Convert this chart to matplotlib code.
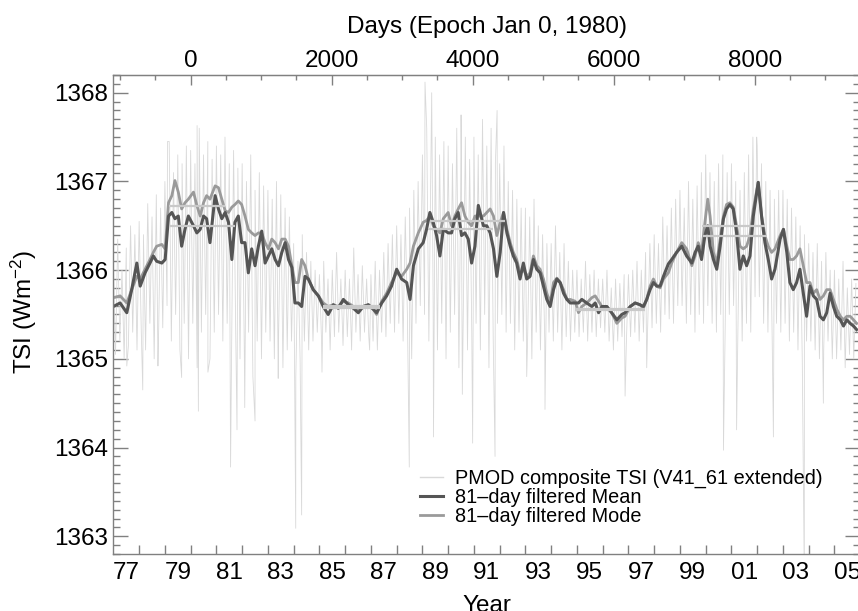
import numpy as np
import matplotlib
matplotlib.use('Agg')
import matplotlib.pyplot as plt
from matplotlib.ticker import MultipleLocator
from matplotlib.lines import Line2D

plt.rcParams['font.family'] = ['Liberation Sans', 'DejaVu Sans']
plt.rcParams['mathtext.fontset'] = 'custom'
plt.rcParams['mathtext.rm'] = 'Liberation Sans'
plt.rcParams['mathtext.it'] = 'Liberation Sans:italic'

# 81-day filtered curves (year, W/m^2)
filt_years = [
    1977.00, 1977.26, 1977.52, 1977.71, 1977.91,
    1978.04, 1978.23, 1978.42, 1978.55, 1978.68, 1978.88,
    1979.01, 1979.14, 1979.27, 1979.39, 1979.52, 1979.65, 1979.78, 1979.91,
    1980.11, 1980.24, 1980.37, 1980.50, 1980.62, 1980.75, 1980.95,
    1981.08, 1981.21, 1981.34, 1981.47, 1981.60, 1981.72, 1981.85, 1981.98,
    1982.11, 1982.24, 1982.37, 1982.50, 1982.63, 1982.76, 1982.89,
    1983.02, 1983.15, 1983.28, 1983.41, 1983.54, 1983.67, 1983.80, 1983.93,
    1984.05, 1984.18, 1984.31, 1984.44, 1984.57, 1984.76, 1984.96,
    1985.15, 1985.34, 1985.54, 1985.73, 1985.93,
    1986.12, 1986.32, 1986.51, 1986.70, 1986.90,
    1987.09, 1987.22, 1987.42, 1987.61, 1987.80,
    1988.00, 1988.19, 1988.39, 1988.52, 1988.65, 1988.84,
    1989.03, 1989.16, 1989.29, 1989.42, 1989.55, 1989.68, 1989.81,
    1990.00, 1990.13, 1990.26, 1990.39, 1990.52, 1990.65, 1990.78, 1990.91,
    1991.04, 1991.17, 1991.37, 1991.50, 1991.63, 1991.76, 1991.89,
    1992.02, 1992.15, 1992.28, 1992.41, 1992.53, 1992.66, 1992.79, 1992.92,
    1993.05, 1993.18, 1993.31, 1993.44, 1993.57, 1993.70, 1993.83, 1993.96,
    1994.09, 1994.22, 1994.35, 1994.48, 1994.61, 1994.74, 1994.93,
    1995.06, 1995.19, 1995.38, 1995.58, 1995.71, 1995.84, 1995.97,
    1996.16, 1996.35, 1996.55, 1996.74, 1996.87,
    1997.07, 1997.26, 1997.45, 1997.58, 1997.71, 1997.84, 1997.97,
    1998.10, 1998.23, 1998.36, 1998.55, 1998.68, 1998.87,
    1999.07, 1999.26, 1999.46, 1999.59, 1999.71, 1999.84, 1999.97,
    2000.08, 2000.17, 2000.30, 2000.43, 2000.56, 2000.69, 2000.81, 2000.94,
    2001.07, 2001.20, 2001.33, 2001.46, 2001.59, 2001.72, 2001.85,
    2002.04, 2002.17, 2002.30, 2002.43, 2002.56, 2002.69, 2002.89,
    2003.02, 2003.15, 2003.27, 2003.40, 2003.53, 2003.66, 2003.79, 2003.92,
    2004.05, 2004.18, 2004.31, 2004.44, 2004.57, 2004.70, 2004.83, 2004.96,
    2005.09, 2005.23, 2005.35, 2005.48, 2005.61, 2005.74, 2005.86,
]
mean_81 = [
    1365.59, 1365.63, 1365.52, 1365.78, 1366.08,
    1365.82, 1365.97, 1366.08, 1366.16, 1366.10, 1366.08,
    1366.12, 1366.61, 1366.65, 1366.58, 1366.61, 1366.27, 1366.46, 1366.61,
    1366.50, 1366.42, 1366.46, 1366.61, 1366.58, 1366.31, 1366.84,
    1366.69, 1366.58, 1366.65, 1366.54, 1366.12, 1366.54, 1366.61, 1366.31,
    1366.31, 1365.97, 1366.24, 1366.05, 1366.27, 1366.44, 1366.08,
    1366.16, 1366.24, 1366.12, 1366.05, 1366.20, 1366.31, 1366.12, 1366.03,
    1365.63, 1365.63, 1365.59, 1365.93, 1365.90, 1365.78, 1365.71,
    1365.59, 1365.50, 1365.61, 1365.57, 1365.67,
    1365.61, 1365.57, 1365.52, 1365.59, 1365.61,
    1365.56, 1365.52, 1365.63, 1365.71, 1365.82,
    1366.01, 1365.90, 1365.86, 1365.67, 1366.05, 1366.24,
    1366.31, 1366.46, 1366.65, 1366.54, 1366.39, 1366.16, 1366.46,
    1366.42, 1366.42, 1366.58, 1366.65, 1366.39, 1366.42, 1366.35, 1366.08,
    1366.27, 1366.73, 1366.50, 1366.50, 1366.42, 1366.24, 1365.93,
    1366.20, 1366.65, 1366.42, 1366.27, 1366.16, 1366.08, 1365.90, 1366.08,
    1365.90, 1365.93, 1366.12, 1366.01, 1365.97, 1365.82, 1365.67, 1365.59,
    1365.78, 1365.90, 1365.86, 1365.74, 1365.67, 1365.63, 1365.63,
    1365.63, 1365.67, 1365.63, 1365.59, 1365.63, 1365.52, 1365.59,
    1365.59, 1365.52, 1365.44, 1365.50, 1365.52,
    1365.59, 1365.63, 1365.61, 1365.59, 1365.67, 1365.78, 1365.86,
    1365.82, 1365.82, 1365.93, 1366.07, 1366.12, 1366.20,
    1366.27, 1366.16, 1366.08, 1366.20, 1366.27, 1366.12, 1366.39,
    1366.50, 1366.27, 1366.12, 1366.01, 1366.27, 1366.58, 1366.69, 1366.74,
    1366.69, 1366.42, 1366.01, 1366.16, 1366.05, 1366.16, 1366.61,
    1366.99, 1366.61, 1366.31, 1366.12, 1365.90, 1366.01, 1366.35,
    1366.46, 1366.20, 1365.86, 1365.78, 1365.86, 1366.01, 1365.74, 1365.48,
    1365.82, 1365.71, 1365.67, 1365.48, 1365.44, 1365.52, 1365.74, 1365.59,
    1365.48, 1365.44, 1365.37, 1365.44, 1365.40, 1365.37, 1365.33,
]
mode_81 = [
    1365.69, 1365.71, 1365.63, 1365.78, 1365.93,
    1365.90, 1366.01, 1366.12, 1366.20, 1366.27, 1366.29,
    1366.24, 1366.76, 1366.84, 1367.01, 1366.88, 1366.69, 1366.76, 1366.80,
    1366.88, 1366.73, 1366.61, 1366.76, 1366.84, 1366.80, 1366.95,
    1366.93, 1366.80, 1366.67, 1366.65, 1366.71, 1366.74, 1366.78, 1366.74,
    1366.61, 1366.46, 1366.42, 1366.39, 1366.42, 1366.42, 1366.31,
    1366.24, 1366.35, 1366.31, 1366.24, 1366.35, 1366.35, 1366.27, 1366.05,
    1365.86, 1365.86, 1366.12, 1366.05, 1365.90, 1365.78, 1365.71,
    1365.63, 1365.59, 1365.61, 1365.59, 1365.65,
    1365.63, 1365.59, 1365.56, 1365.59, 1365.61,
    1365.56, 1365.50, 1365.65, 1365.74, 1365.86,
    1365.97, 1365.93, 1366.01, 1366.08, 1366.27, 1366.42,
    1366.54, 1366.56, 1366.61, 1366.50, 1366.46, 1366.42, 1366.58,
    1366.65, 1366.50, 1366.61, 1366.69, 1366.76, 1366.61, 1366.54, 1366.50,
    1366.61, 1366.61, 1366.61, 1366.65, 1366.69, 1366.61, 1366.39,
    1366.54, 1366.65, 1366.46, 1366.31, 1366.20, 1366.12, 1365.97, 1366.01,
    1365.93, 1365.97, 1366.16, 1366.05, 1366.01, 1365.90, 1365.74, 1365.63,
    1365.86, 1365.91, 1365.86, 1365.78, 1365.67, 1365.67, 1365.65,
    1365.52, 1365.59, 1365.63, 1365.69, 1365.71, 1365.65, 1365.59,
    1365.59, 1365.52, 1365.40, 1365.46, 1365.48,
    1365.59, 1365.63, 1365.61, 1365.57, 1365.67, 1365.82, 1365.90,
    1365.82, 1365.80, 1365.90, 1365.97, 1366.08, 1366.20,
    1366.31, 1366.24, 1366.05, 1366.16, 1366.31, 1366.20, 1366.54,
    1366.80, 1366.61, 1366.20, 1366.08, 1366.35, 1366.61, 1366.74, 1366.76,
    1366.71, 1366.50, 1366.27, 1366.24, 1366.27, 1366.39, 1366.69,
    1366.99, 1366.61, 1366.39, 1366.27, 1366.20, 1366.24, 1366.39,
    1366.46, 1366.27, 1366.12, 1366.12, 1366.16, 1366.24, 1366.05, 1365.86,
    1365.86, 1365.74, 1365.78, 1365.67, 1365.71, 1365.78, 1365.78, 1365.67,
    1365.56, 1365.48, 1365.44, 1365.48, 1365.48, 1365.44, 1365.40,
]

# daily composite: upper / lower edge of the band, six two-month bins per year
band_years = list(range(1977, 2006))
band_hi = [
    [1366.05, 1366.35, 1366.00, 1366.25, 1366.50, 1366.40],
    [1366.55, 1366.40, 1366.75, 1366.60, 1366.85, 1366.70],
    [1367.00, 1367.45, 1367.10, 1367.30, 1367.20, 1367.40],
    [1367.35, 1367.20, 1367.60, 1367.30, 1367.45, 1367.25],
    [1367.40, 1367.30, 1367.50, 1367.20, 1367.35, 1367.15],
    [1367.20, 1367.00, 1367.30, 1366.90, 1367.10, 1366.95],
    [1366.90, 1366.80, 1367.00, 1366.85, 1366.70, 1366.60],
    [1366.30, 1366.10, 1366.40, 1366.20, 1366.10, 1366.00],
    [1365.95, 1366.10, 1365.90, 1366.00, 1366.20, 1365.90],
    [1366.00, 1365.90, 1366.25, 1365.95, 1366.05, 1365.90],
    [1365.95, 1366.10, 1366.00, 1366.20, 1366.30, 1366.40],
    [1366.50, 1366.40, 1366.60, 1366.70, 1366.90, 1367.00],
    [1367.30, 1367.60, 1367.40, 1367.50, 1367.30, 1367.45],
    [1367.40, 1367.20, 1367.60, 1367.30, 1367.50, 1367.25],
    [1367.50, 1367.30, 1367.70, 1367.40, 1367.60, 1367.20],
    [1367.20, 1367.40, 1367.00, 1366.90, 1366.80, 1366.70],
    [1366.70, 1366.60, 1366.80, 1366.50, 1366.40, 1366.30],
    [1366.30, 1366.50, 1366.20, 1366.30, 1366.10, 1366.00],
    [1366.00, 1365.90, 1366.10, 1365.95, 1366.00, 1365.90],
    [1365.90, 1366.00, 1365.80, 1365.90, 1365.85, 1365.95],
    [1365.95, 1366.00, 1366.10, 1366.00, 1366.20, 1366.30],
    [1366.40, 1366.30, 1366.60, 1366.50, 1366.70, 1366.80],
    [1366.90, 1366.70, 1367.00, 1366.80, 1366.95, 1367.10],
    [1367.30, 1367.10, 1367.00, 1367.20, 1367.30, 1367.10],
    [1367.20, 1367.00, 1366.90, 1367.10, 1367.30, 1367.50],
    [1367.40, 1367.20, 1367.00, 1366.90, 1366.80, 1366.90],
    [1366.90, 1366.80, 1366.70, 1366.60, 1366.50, 1366.40],
    [1366.30, 1366.20, 1366.30, 1366.10, 1366.20, 1366.00],
    [1366.00, 1365.90, 1366.10, 1365.80, 1365.90, 1365.85],
]
band_lo = [
    [1365.05, 1365.20, 1365.00, 1365.15, 1365.30, 1365.10],
    [1365.30, 1365.10, 1365.40, 1365.00, 1365.20, 1365.35],
    [1365.60, 1365.20, 1365.50, 1365.10, 1365.40, 1365.00],
    [1365.40, 1364.90, 1365.30, 1365.50, 1365.00, 1365.30],
    [1365.50, 1365.20, 1365.40, 1364.90, 1365.30, 1365.00],
    [1365.10, 1365.30, 1364.80, 1365.20, 1365.00, 1365.30],
    [1365.20, 1365.00, 1365.30, 1364.90, 1365.10, 1365.20],
    [1364.80, 1365.00, 1365.20, 1365.10, 1365.20, 1365.30],
    [1365.20, 1365.30, 1365.10, 1365.25, 1365.30, 1365.15],
    [1365.25, 1365.10, 1365.30, 1365.20, 1365.30, 1365.25],
    [1365.20, 1365.10, 1365.30, 1365.25, 1365.40, 1365.30],
    [1365.40, 1365.20, 1365.50, 1365.00, 1365.40, 1365.60],
    [1365.50, 1365.20, 1365.60, 1365.10, 1365.40, 1365.00],
    [1365.30, 1365.50, 1364.90, 1365.40, 1365.10, 1365.30],
    [1365.40, 1365.10, 1365.50, 1364.90, 1365.20, 1365.40],
    [1365.50, 1365.30, 1365.40, 1365.10, 1365.30, 1365.20],
    [1365.20, 1365.00, 1365.30, 1365.10, 1365.20, 1365.30],
    [1365.20, 1365.30, 1365.10, 1365.25, 1365.20, 1365.30],
    [1365.25, 1365.30, 1365.20, 1365.30, 1365.25, 1365.35],
    [1365.30, 1365.20, 1365.10, 1365.20, 1365.25, 1365.15],
    [1365.25, 1365.30, 1365.20, 1365.30, 1365.40, 1365.35],
    [1365.40, 1365.30, 1365.50, 1365.45, 1365.40, 1365.60],
    [1365.60, 1365.40, 1365.50, 1365.30, 1365.50, 1365.40],
    [1365.60, 1365.40, 1365.30, 1365.50, 1365.20, 1365.50],
    [1365.60, 1365.30, 1365.20, 1365.40, 1365.30, 1365.70],
    [1365.70, 1365.40, 1365.30, 1365.20, 1365.40, 1365.30],
    [1365.40, 1365.20, 1365.30, 1365.10, 1365.00, 1365.20],
    [1365.20, 1365.10, 1365.00, 1365.10, 1365.20, 1365.00],
    [1365.00, 1365.10, 1364.90, 1365.05, 1365.00, 1364.95],
]
# isolated daily excursions (sunspot dips and bright days)
spike_years = [1977.52, 1978.14, 1978.73, 1979.10, 1979.65, 1980.25, 1980.30,
               1980.67, 1981.55, 1981.80, 1982.10, 1982.50, 1983.40, 1984.08,
               1984.31, 1985.10, 1986.95, 1988.49, 1989.10, 1989.36, 1989.43,
               1990.50, 1990.55, 1990.95, 1991.82, 1991.90, 1993.05, 1993.76,
               1996.87, 1997.71, 2000.69, 2001.20, 2001.98, 2002.63, 2003.83,
               2004.57]
spike_vals = [1364.92, 1364.65, 1364.92, 1367.45, 1364.79, 1367.63, 1364.41,
              1364.85, 1363.78, 1364.20, 1364.45, 1364.30, 1364.78, 1363.09,
              1363.24, 1364.85, 1365.10, 1363.78, 1368.12, 1368.00, 1364.12,
              1367.75, 1364.60, 1364.05, 1363.90, 1367.80, 1364.80, 1364.43,
              1364.58, 1364.90, 1363.97, 1364.20, 1367.50, 1364.12, 1362.50,
              1364.50]

# flat levels over solar maxima / minima
level_start = [1979.14, 1979.20, 1985.15, 1985.15, 1989.30, 1989.20, 1994.93, 1994.93, 1999.84, 1999.90]
level_end = [1981.34, 1981.72, 1987.35, 1987.35, 1992.20, 1991.75, 1997.65, 1997.65, 2002.30, 2002.37]
level_val = [1366.72, 1366.50, 1365.60, 1365.57, 1366.55, 1366.46, 1365.56, 1365.55, 1366.50, 1366.39]

xlabel_years = list(range(1977, 2006, 2))

# assemble daily trace as a zig-zag between band edges, with spikes merged in
pts = []
for i, yr in enumerate(band_years):
    for k in range(6):
        pts.append((yr + k / 6.0, band_hi[i][k]))
        pts.append((yr + k / 6.0 + 1 / 12.0, band_lo[i][k]))
pts += list(zip(spike_years, spike_vals))
pts = [p for p in pts if p[0] <= 2005.9]
pts.sort()
daily_t = [p[0] for p in pts]
daily_v = [p[1] for p in pts]

fig = plt.figure(figsize=(8.58, 6.11), dpi=100)
ax = fig.add_axes([113.4 / 858, 57 / 611, 746.8 / 858, 479 / 611])

c_daily = '#d9d9d9'
c_mean = '#555555'
c_mode = '#9a9a9a'
c_level = '#c9c9c9'

ax.plot(daily_t, daily_v, color=c_daily, lw=0.6)
ax.plot(filt_years, mode_81, color=c_mode, lw=2.0, solid_joinstyle='round')
ax.plot(filt_years, mean_81, color=c_mean, lw=2.2, solid_joinstyle='round')
ax.hlines(level_val, level_start, level_end, colors=c_level, lw=1.6)

ax.set_xlim(1977, 2006)
ax.set_ylim(1362.8, 1368.2)

axc = '#808080'
for sp in ax.spines.values():
    sp.set_color(axc)
    sp.set_linewidth(1.0)

# bottom: ticks at year boundaries, labels in the middle of odd years
ax.set_xticks(np.arange(1978, 2006), minor=True)
ax.set_xticks([y + 0.5 for y in xlabel_years], ['%02d' % (y % 100) for y in xlabel_years])
ax.tick_params(axis='x', which='major', length=0, pad=5.8, labelsize=17.5, top=False)
ax.tick_params(axis='x', which='minor', length=6.5, width=1.0, color=axc,
               direction='in', top=False)

ax.yaxis.set_major_locator(MultipleLocator(1))
ax.yaxis.set_minor_locator(MultipleLocator(0.1))
ax.tick_params(axis='y', which='both', direction='in', left=True, right=True,
               color=axc, width=1.0)
ax.tick_params(axis='y', which='major', length=10.8, pad=4.1, labelsize=17.5)
ax.tick_params(axis='y', which='minor', length=5.0)

# top: days since Jan 0, 1980
sec = ax.secondary_xaxis('top', functions=(lambda y: (y - 1980.0) * 365.25,
                                           lambda d: d / 365.25 + 1980.0))
sec.set_xticks([0, 2000, 4000, 6000, 8000])
sec.xaxis.set_minor_locator(MultipleLocator(500))
sec.tick_params(which='both', direction='in', color=axc, width=1.0)
sec.tick_params(which='major', length=7.2, pad=2.2, labelsize=17.5)
sec.tick_params(which='minor', length=3.6)
sec.spines['top'].set_color(axc)

fig.text(486.5 / 858, 1 - 33.5 / 611, 'Days (Epoch Jan 0, 1980)', ha='center',
         va='baseline', fontsize=17.5)
fig.text(487 / 858, 1 - 612.5 / 611, 'Year', ha='center', va='baseline', fontsize=17.5)
fig.text(24 / 858, 1 - 312 / 611, 'TSI (Wm$^{-2}$)', ha='center', va='center',
         rotation=90, fontsize=17.5)

handles = [Line2D([], [], color=c_daily, lw=1.0),
           Line2D([], [], color=c_mean, lw=2.2),
           Line2D([], [], color=c_mode, lw=2.0)]
labels = ['PMOD composite TSI (V41_61 extended)',
          '81\u2013day filtered Mean',
          '81\u2013day filtered Mode']
ax.legend(handles, labels, loc='upper left', bbox_to_anchor=(0.4106, 0.178),
          frameon=False, borderpad=0, borderaxespad=0, handlelength=1.16,
          handletextpad=0.59, labelspacing=0.0, fontsize=14.3)

fig.savefig('out.png', dpi=100)
